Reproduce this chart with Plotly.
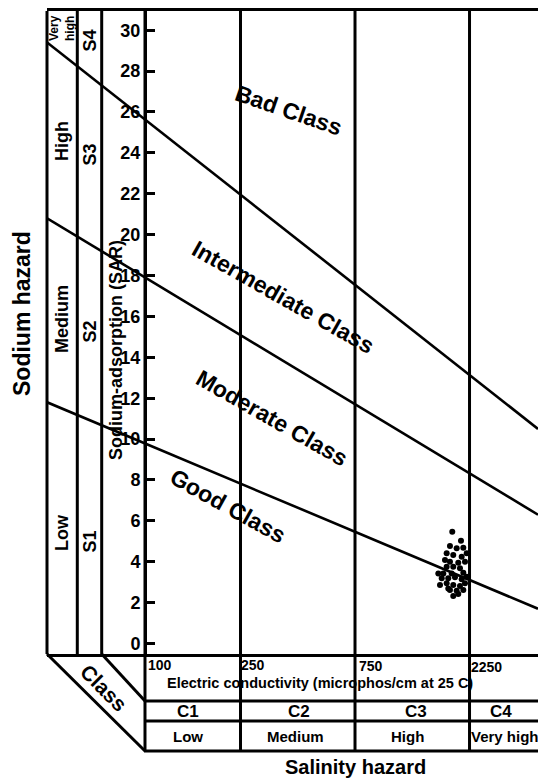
import plotly.graph_objects as go

# ---------------- data ----------------
ec_ticks = [100, 250, 750, 2250]
ec_tick_labels = ["100", "250", "750", "2250"]
salinity_classes = ["C1", "C2", "C3", "C4"]
salinity_levels = ["Low", "Medium", "High", "Very high"]
sar_ticks = [0, 2, 4, 6, 8, 10, 12, 14, 16, 18, 20, 22, 24, 26, 28, 30]

sodium_levels = ["Very<br>high", "High", "Medium", "Low"]
sodium_classes = ["S4", "S3", "S2", "S1"]

# class boundary lines: (EC, SAR) at the left border and at the right edge
line_ec = [39.1, 4341]
bad_line_sar = [29.4, 10.5]
medium_line_sar = [20.8, 6.3]
good_line_sar = [11.8, 1.7]

class_names = ["Bad Class", "Intermediate Class", "Moderate Class", "Good Class"]

# water samples
sample_ec = [1907, 2073, 1865, 1989, 2120, 2190, 1807, 1925, 2087, 1778,
             1865, 2020, 2154, 1807, 1925, 2053, 1668, 1750, 1896, 2120,
             1723, 1835, 1957, 2087, 2190, 1695, 1807, 1925, 2053, 1865,
             1989, 2120, 1925, 2020, 1835, 2154]
sample_sar = [5.47, 5.03, 4.77, 4.66, 4.69, 4.41, 4.41, 4.33, 4.25, 4.09,
              4.00, 3.95, 4.00, 3.76, 3.76, 3.68, 3.43, 3.43, 3.43, 3.46,
              3.19, 3.19, 3.24, 3.14, 3.27, 2.86, 2.95, 2.86, 2.81, 2.62,
              2.58, 2.62, 2.32, 2.42, 2.69, 2.95]

# ---------------- layout helpers ----------------
W, H = 538, 778
PL, PR, PT, PB = 47, 538, 11, 654   # plot area in page pixels
L, R, T, B = PL, W - PR, PT, H - PB
PW, PH = PR - PL, PB - PT


def px(x):
    return (x - PL) / PW


def py(y):
    return (PB - y) / PH


FONT = "Liberation Sans, Arial, sans-serif"
LW = 3

fig = go.Figure()

for sar in (bad_line_sar, medium_line_sar, good_line_sar):
    fig.add_trace(go.Scatter(x=line_ec, y=sar, mode="lines",
                             line=dict(color="black", width=2.6),
                             hoverinfo="skip", showlegend=False))

fig.add_trace(go.Scatter(x=sample_ec, y=sample_sar, mode="markers",
                         marker=dict(color="black", size=6),
                         showlegend=False))

shapes = []
# left border and sodium panel dividers
for xp in (PL, 77.3, 101.7):
    shapes.append(dict(type="line", xref="paper", yref="paper",
                       x0=px(xp), x1=px(xp), y0=0, y1=1,
                       line=dict(color="black", width=LW)))
# EC vertical lines extending into the table
for ec in ec_ticks:
    shapes.append(dict(type="line", xref="x", yref="paper",
                       x0=ec, x1=ec, y0=py(751), y1=1,
                       line=dict(color="black", width=LW)))
# table horizontal lines
for yy in (701, 721, 751):
    shapes.append(dict(type="line", xref="paper", yref="paper",
                       x0=px(144), x1=1, y0=py(yy), y1=py(yy),
                       line=dict(color="black", width=LW)))
# diagonal "Class" lines
shapes.append(dict(type="line", xref="paper", yref="paper",
                   x0=0, y0=0, x1=px(145), y1=py(751),
                   line=dict(color="black", width=LW)))
shapes.append(dict(type="line", xref="paper", yref="paper",
                   x0=px(101.7), y0=0, x1=px(145), y1=py(701),
                   line=dict(color="black", width=LW)))

ann = []


def add_text(text, x, y, size, angle=0, xanchor="center", yanchor="middle",
             align="center"):
    ann.append(dict(text=text, xref="paper", yref="paper", x=px(x), y=py(y),
                    showarrow=False, textangle=angle, xanchor=xanchor,
                    yanchor=yanchor, align=align,
                    font=dict(family=FONT, size=size, color="black",
                              weight="bold")))


# sodium hazard panel
add_text(sodium_levels[0], 62, 43, 12, -90, yanchor="bottom", align="left")
for lvl, yy in zip(sodium_levels[1:], [141, 319, 533]):
    add_text(lvl, 62, yy, 18, -90)
for cls, yy in zip(sodium_classes, [41, 155, 332, 542]):
    add_text(cls, 89.5, yy, 18, -90)
add_text("Sodium hazard", 22, 314, 23, -90)
add_text("Sodium-adsorption (SAR)", 116, 350, 18, -90)

# class labels in the chart
for name, (xx, yy, ang) in zip(class_names,
                               [(288, 110, 19), (283, 297, 29.5),
                                (272, 418, 29.6), (228, 506, 29)]):
    add_text(name, xx, yy, 23, ang)

# table
for lab, xx, yy in zip(ec_tick_labels, [146, 239, 357, 469], [665, 665, 666, 667]):
    add_text(lab, xx, yy, 14, xanchor="left")
add_text("Electric conductivity (microphos/cm at 25 C)", 320, 683, 14.5)
for cls, xx in zip(salinity_classes, [187.5, 299, 415.5, 501]):
    add_text(cls, xx, 711, 17)
for lvl, xx in zip(salinity_levels, [188, 295, 407, 505]):
    add_text(lvl, xx, 736, 15)
add_text("Salinity hazard", 355, 767, 20)
add_text("Class", 103.5, 687.5, 21, 45)

fig.update_layout(
    width=W, height=H,
    margin=dict(l=L, r=R, t=T, b=B, pad=0),
    paper_bgcolor="white", plot_bgcolor="white",
    showlegend=False,
    shapes=shapes, annotations=ann,
    xaxis=dict(type="log", range=[1.5917, 3.6375], showgrid=False,
               zeroline=False, showticklabels=False, ticks="",
               showline=True, mirror=True, linecolor="black", linewidth=LW),
    yaxis=dict(range=[-0.513, 30.94], anchor="free", position=px(145),
               showgrid=False, zeroline=False, showline=True,
               linecolor="black", linewidth=LW,
               tickmode="array", tickvals=sar_ticks,
               ticktext=[str(v) for v in sar_ticks],
               ticks="inside", ticklen=8, tickwidth=2.5, tickcolor="black",
               tickfont=dict(family=FONT, size=18, color="black",
                             weight="bold")),
)

fig.write_html("out.html",
               config={"displayModeBar": False},
               post_script="document.body.style.margin='0';"
                           "document.body.style.overflow='hidden';")
